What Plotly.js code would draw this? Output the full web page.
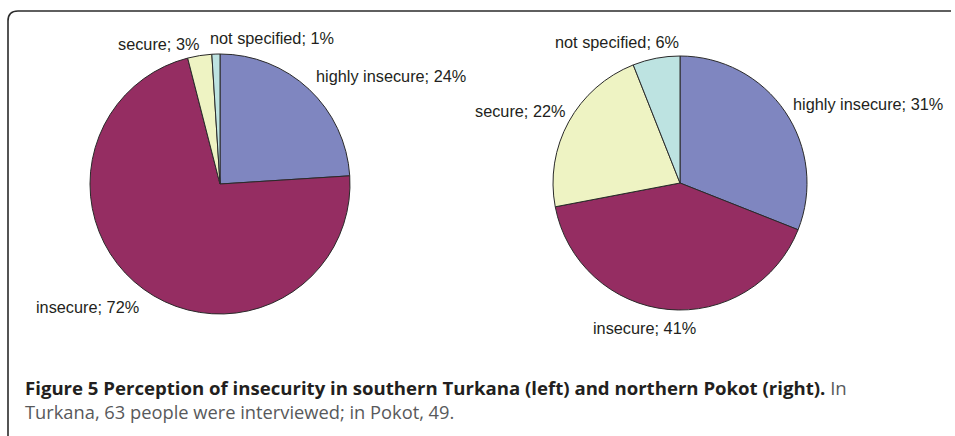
<!DOCTYPE html>
<html>
<head>
<meta charset="utf-8">
<script src="https://cdn.plot.ly/plotly-3.0.1.min.js"></script>
<style>
html,body{margin:0;padding:0;background:#fff;}
#chart{width:955px;height:436px;}
</style>
</head>
<body>
<div id="chart"></div>
<script>
// Data
const categories = ["highly insecure", "insecure", "secure", "not specified"];
const turkanaValues = [24, 72, 3, 1];
const pokotValues = [31, 41, 22, 6];
const sliceColors = ["#7f86c0", "#952d62", "#eef3c3", "#bde3e1"];
const captionBold = "Figure 5 Perception of insecurity in southern Turkana (left) and northern Pokot (right).";
const captionRest1 = " In";
const captionRest2 = "Turkana, 63 people were interviewed; in Pokot, 49.";

const W = 955, H = 436;
function px(x){return x/W;}
function py(y){return 1 - y/H;}

function pieTrace(values, cx, cy, r){
  return {
    type: "pie",
    labels: categories,
    values: values,
    sort: false,
    direction: "clockwise",
    rotation: 0,
    textinfo: "none",
    hoverinfo: "label+percent",
    marker: {colors: sliceColors, line: {color: "#2a2a2a", width: 1}},
    domain: {x: [px(cx - r), px(cx + r)], y: [py(cy + r), py(cy - r)]},
    showlegend: false
  };
}

const traces = [
  pieTrace(turkanaValues, 220, 184, 130),
  pieTrace(pokotValues, 680, 183, 127)
];

// label placement (pixel anchor, left/center)
const leftLabelPos = [[314, 76], [34, 307], [116, 44], [208, 38]];
const rightLabelPos = [[791, 104], [591, 328], [473, 111], [553, 42]];

const annotations = [];
function addLabels(values, pos){
  values.forEach((v, i) => {
    annotations.push({
      x: px(pos[i][0]), y: py(pos[i][1]), xref: "paper", yref: "paper",
      xanchor: "left", yanchor: "middle", showarrow: false,
      text: categories[i] + "; " + v + "%",
      font: {family: "Liberation Sans, Arial, sans-serif", size: 16.3, color: "#231f20"}
    });
  });
}
addLabels(turkanaValues, leftLabelPos);
addLabels(pokotValues, rightLabelPos);

annotations.push({
  x: px(23), y: py(387), xref: "paper", yref: "paper",
  xanchor: "left", yanchor: "middle", showarrow: false, align: "left",
  text: "<b>" + captionBold + "</b><span style='color:#58595b'>" + captionRest1 + "</span>",
  font: {family: "Open Sans, sans-serif", size: 18.6, color: "#231f20"}
});
annotations.push({
  x: px(23), y: py(411), xref: "paper", yref: "paper",
  xanchor: "left", yanchor: "middle", showarrow: false, align: "left",
  text: captionRest2,
  font: {family: "Open Sans, sans-serif", size: 18.3, color: "#58595b"}
});

const layout = {
  width: W, height: H,
  margin: {l: 0, r: 0, t: 0, b: 0},
  paper_bgcolor: "#ffffff",
  plot_bgcolor: "#ffffff",
  showlegend: false,
  annotations: annotations,
  shapes: [{
    type: "path", xref: "paper", yref: "paper",
    path: "M " + px(8) + " " + py(440) + " L " + px(8) + " " + py(21) +
          " Q " + px(8) + " " + py(11) + " " + px(18) + " " + py(11) +
          " L " + px(951) + " " + py(11),
    line: {color: "#2b2b2b", width: 1.6}
  }]
};

Plotly.newPlot("chart", traces, layout, {displayModeBar: false, staticPlot: true});
</script>
</body>
</html>
